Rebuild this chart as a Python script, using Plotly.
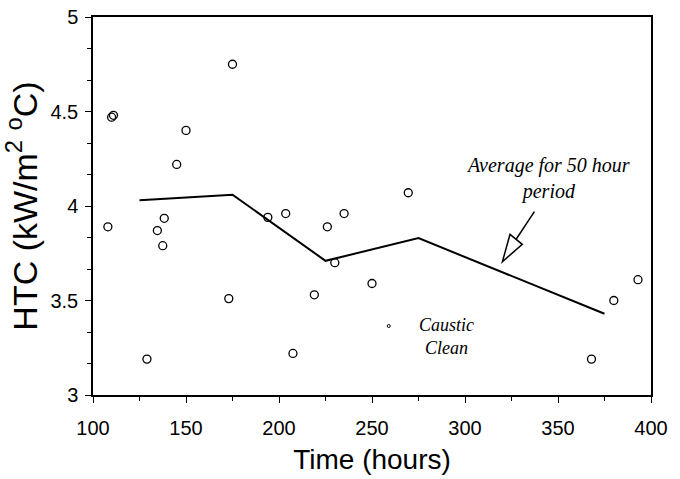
import plotly.graph_objects as go

# measured HTC points
time_h = [108, 110, 111, 129, 134.6, 137.5, 138.3, 145, 150, 173, 175, 194, 203.6,
          207.5, 219, 226, 230, 235, 250, 269.5, 368, 380, 393]
htc = [3.89, 4.47, 4.48, 3.19, 3.87, 3.79, 3.935, 4.22, 4.40, 3.51, 4.75, 3.94, 3.96,
       3.22, 3.53, 3.89, 3.70, 3.96, 3.59, 4.07, 3.19, 3.50, 3.61]

# caustic clean marker
clean_t = [259]
clean_htc = [3.365]

# 50 hour averages
avg_t = [125, 175, 225, 275, 375]
avg_htc = [4.03, 4.06, 3.71, 3.83, 3.43]

fig = go.Figure()
fig.add_trace(go.Scatter(x=avg_t, y=avg_htc, mode="lines",
                         line=dict(color="black", width=2), showlegend=False))
fig.add_trace(go.Scatter(x=time_h, y=htc, mode="markers",
                         marker=dict(symbol="circle-open", size=8, color="black",
                                     line=dict(width=1.3, color="black")),
                         showlegend=False))
fig.add_trace(go.Scatter(x=clean_t, y=clean_htc, mode="markers",
                         marker=dict(symbol="circle-open", size=3, color="black",
                                     line=dict(width=1, color="black")),
                         showlegend=False))

fig.add_annotation(x=344.4, y=4.143, xref="x", yref="y", showarrow=False,
                   text="<i>Average for 50 hour<br>period</i>",
                   font=dict(family="Liberation Serif", size=20, color="black"),
                   align="center", xanchor="center", yanchor="middle")
fig.add_annotation(x=290.3, y=3.31, xref="x", yref="y", showarrow=False,
                   text="<i>Caustic<br>Clean</i>",
                   font=dict(family="Liberation Serif", size=18, color="black"),
                   align="center", xanchor="center", yanchor="middle")

# arrow: shaft + open triangle head
fig.add_shape(type="line", x0=337.3, y0=3.97, x1=327.5, y1=3.824,
              line=dict(color="black", width=1.5), xref="x", yref="y")
fig.add_shape(type="path", path="M 320.1 3.705 L 324.2 3.850 L 330.8 3.797 Z",
              line=dict(color="black", width=1.5), fillcolor="white",
              xref="x", yref="y")

axis_font = dict(family="Liberation Sans", size=20, color="black")
fig.update_xaxes(range=[100, 400], dtick=50, tick0=100, showgrid=False, zeroline=False,
                 showline=True, linecolor="black", linewidth=1.5, mirror=True,
                 ticks="outside", ticklen=6, tickwidth=1.2, tickcolor="black",
                 minor=dict(dtick=25, ticks="outside", ticklen=4, tickcolor="black",
                            tickwidth=1, showgrid=False),
                 tickfont=axis_font, ticklabelstandoff=8,
                 title=dict(text="Time (hours)",
                            font=dict(family="Liberation Sans", size=28, color="black"),
                            standoff=12))
fig.update_yaxes(range=[3, 5], dtick=0.5, tick0=3, showgrid=False, zeroline=False,
                 showline=True, linecolor="black", linewidth=1.5, mirror=True,
                 ticks="outside", ticklen=6, tickwidth=1.2, tickcolor="black",
                 minor=dict(dtick=1/6, ticks="outside", ticklen=4, tickcolor="black",
                            tickwidth=1, showgrid=False),
                 tickfont=axis_font, ticklabelstandoff=3,
                 title=dict(text="HTC (kW/m<sup>2</sup> <sup>o</sup>C)",
                            font=dict(family="Liberation Sans", size=34, color="black"),
                            standoff=3))

fig.update_layout(width=680, height=479, plot_bgcolor="white", paper_bgcolor="white",
                  margin=dict(l=93, r=29, t=17, b=84, autoexpand=False))
fig.write_html("out.html", config={"displayModeBar": False},
               post_script="document.body.style.margin='0';")
